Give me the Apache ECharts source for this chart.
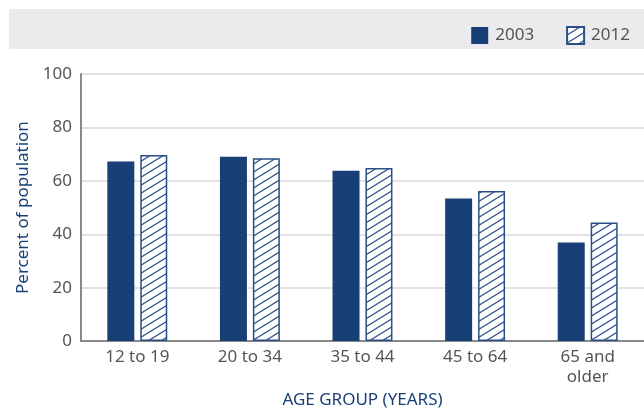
<!DOCTYPE html>
<html><head><meta charset="utf-8">
<script src="https://cdn.jsdelivr.net/npm/echarts@6/dist/echarts.min.js"></script>
<style>html,body{margin:0;padding:0;background:#fff}#c{width:644px;height:414px}</style>
</head><body><div id="c"></div>
<script>
const categories = ['12 to 19', '20 to 34', '35 to 44', '45 to 64', '65 and\nolder'];
const values2003 = [67.2, 69.0, 63.8, 53.4, 36.9];
const values2012 = [69.7, 68.5, 64.8, 56.2, 44.4];
const yTicks = [0, 20, 40, 60, 80, 100];

const navy = '#193f77';
function hatch() {
  const w = 13, h = 8;
  const c = document.createElement('canvas');
  c.width = w; c.height = h;
  const g = c.getContext('2d');
  g.fillStyle = '#fff'; g.fillRect(0, 0, w, h);
  g.strokeStyle = '#2a4f86'; g.lineWidth = 1.2;
  for (const dy of [-h, 0, h]) {
    g.beginPath(); g.moveTo(-w, 2 * h + dy); g.lineTo(2 * w, -h + dy); g.stroke();
  }
  return c;
}
const font = '"Noto Sans", sans-serif';
const chart = echarts.init(document.getElementById('c'), null, {renderer: 'canvas'});
chart.setOption({
  animation: false,
  graphic: [
    {type: 'rect', shape: {x: 9, y: 9, width: 635, height: 40}, style: {fill: '#ebebed'}, z: -1}
  ],
  legend: {
    right: 9, top: 21, itemWidth: 17, itemHeight: 17, itemGap: 32, icon: 'rect',
    textStyle: {color: '#555', fontSize: 17, fontFamily: font, padding: [0, 0, 0, 2]},
    data: ['2003', '2012']
  },
  grid: {left: 81, right: 0, top: 74, bottom: 72},
  xAxis: {
    type: 'category', data: categories,
    name: 'AGE GROUP (YEARS)', nameLocation: 'middle', nameGap: 48,
    nameTextStyle: {color: navy, fontSize: 17, fontFamily: font},
    axisLine: {lineStyle: {color: '#888', width: 2}},
    axisTick: {inside: true, length: 7, lineStyle: {color: '#666', width: 1.5}},
    axisLabel: {color: '#555', fontSize: 17, fontFamily: font, margin: 6, lineHeight: 20}
  },
  yAxis: {
    type: 'value', min: 0, max: 100, interval: 20,
    name: 'Percent of population', nameLocation: 'middle', nameGap: 44,
    nameTextStyle: {color: navy, fontSize: 17, fontFamily: font},
    axisLine: {show: true, lineStyle: {color: '#888', width: 2}},
    axisTick: {show: false},
    axisLabel: {color: '#555', fontSize: 17, fontFamily: font, margin: 9,
      formatter: v => yTicks.includes(v) ? String(v) : ''},
    splitLine: {lineStyle: {color: '#e2e2e2', width: 2}}
  },
  series: [
    {name: '2003', type: 'bar', data: values2003, barWidth: 27, barGap: '22%',
     itemStyle: {color: navy}},
    {name: '2012', type: 'bar', data: values2012, barWidth: 27,
     itemStyle: {color: {image: hatch(), repeat: 'repeat'}, borderColor: '#2a4f86', borderWidth: 1.5}}
  ]
});
</script></body></html>
